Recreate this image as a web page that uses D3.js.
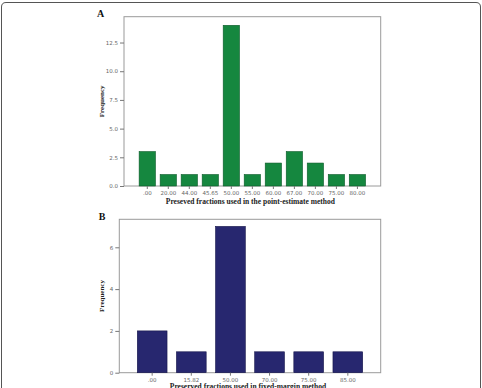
<!DOCTYPE html>
<html>
<head>
<meta charset="utf-8">
<script src="https://cdn.jsdelivr.net/npm/d3@7"></script>
<style>
  body { margin: 0; background: #fff; }
  svg { display: block; }
</style>
</head>
<body>
<div id="chart"></div>
<script>
(function(){

    //Data
    var catsA = [".00", "20.00", "44.00", "45.65", "50.00", "55.00", "60.00", "67.00", "70.00", "75.00", "80.00"];
    var freqA = [3, 1, 1, 1, 14, 1, 2, 3, 2, 1, 1];
    var ticksA = [0, 2.5, 5, 7.5, 10, 12.5];

    var catsB = [".00", "15.82", "50.00", "70.00", "75.00", "85.00"];
    var freqB = [2, 1, 7, 1, 1, 1];
    var ticksB = [0, 2, 4, 6];

    var width = 482, height = 388;
    var svg = d3.select("#chart").append("svg")
        .attr("width", width)
        .attr("height", height);

    //Outer rounded border
    svg.append("path")
        .attr("d", "M1.5," + (height + 5) + " L1.5,7 Q1.5,2.5 6,2.5 L476,2.5 Q480.5,2.5 480.5,7 L480.5," + (height + 5))
        .style("fill", "none")
        .style("stroke", "#555")
        .style("stroke-width", 1);

    function panel(opt){
        var g = svg.append("g");

        var x = d3.scaleBand()
            .domain(opt.cats)
            .range([opt.left, opt.right])
            .paddingInner(opt.pin)
            .paddingOuter(opt.pout);

        var y = d3.scaleLinear()
            .domain([0, opt.ymax])
            .range([opt.bottom, opt.top]);

        //frame
        g.append("rect")
            .attr("x", opt.left)
            .attr("y", opt.top)
            .attr("width", opt.right - opt.left)
            .attr("height", opt.bottom - opt.top)
            .style("fill", "none")
            .style("stroke", "#9a9a9a")
            .style("stroke-width", 1);

        //bars
        g.append("g")
            .selectAll("rect")
            .data(opt.vals)
            .enter().append("rect")
            .attr("x", function(d, i){ return x(opt.cats[i]); })
            .attr("y", function(d){ return y(d); })
            .attr("width", x.bandwidth())
            .attr("height", function(d){ return opt.bottom - y(d); })
            .style("fill", opt.fill)
            .style("stroke", opt.stroke)
            .style("stroke-width", 0.6);

        //y axis
        var yAxis = d3.axisLeft(y)
            .tickValues(opt.yticks)
            .tickSize(4)
            .tickPadding(2)
            .tickFormat(opt.yfmt);
        var ya = g.append("g")
            .attr("transform", "translate(" + opt.left + ",0)")
            .call(yAxis);
        ya.select(".domain").remove();

        //x axis
        var xAxis = d3.axisBottom(x)
            .tickSize(3)
            .tickPadding(2);
        var xa = g.append("g")
            .attr("transform", "translate(0," + opt.bottom + ")")
            .call(xAxis);
        xa.select(".domain").remove();

        g.selectAll(".tick line").style("stroke", "#777");
        g.selectAll(".tick text")
            .attr("font-family", "DejaVu Sans, sans-serif")
            .attr("font-size", "5.5px")
            .attr("fill", "#666");

        //titles
        g.append("text")
            .attr("x", (opt.left + opt.right) / 2 - 2)
            .attr("y", opt.xtitleY)
            .attr("text-anchor", "middle")
            .attr("font-family", "Liberation Serif, serif")
            .attr("font-weight", "bold")
            .attr("font-size", "7.5px")
            .attr("fill", "#222")
            .text(opt.xtitle);

        g.append("text")
            .attr("transform", "translate(" + 104 + "," + ((opt.top + opt.bottom) / 2) + ") rotate(-90)")
            .attr("text-anchor", "middle")
            .attr("font-family", "Liberation Serif, serif")
            .attr("font-weight", "bold")
            .attr("font-size", "7px")
            .attr("fill", "#222")
            .text("Frequency");

        g.append("text")
            .attr("x", opt.labelX)
            .attr("y", opt.labelY)
            .attr("text-anchor", "middle")
            .attr("font-family", "Liberation Serif, serif")
            .attr("font-weight", "bold")
            .attr("font-size", "10px")
            .attr("fill", "#111")
            .text(opt.label);
    }

    panel({
        cats: catsA, vals: freqA, yticks: ticksA, ymax: 14.75,
        yfmt: d3.format(".1f"),
        left: 124, right: 380.7, top: 16.7, bottom: 186,
        pin: 0.224, pout: 0.72,
        fill: "#15873f", stroke: "#0d5a2a",
        xtitle: "Preseved fractions used in the point-estimate method",
        xtitleY: 204,
        label: "A", labelX: 100.5, labelY: 17
    });

    panel({
        cats: catsB, vals: freqB, yticks: ticksB, ymax: 7.34,
        yfmt: d3.format("d"),
        left: 119.3, right: 380.7, top: 219.3, bottom: 372.7,
        pin: 0.24, pout: 0.46,
        fill: "#27276f", stroke: "#15154a",
        xtitle: "Preserved fractions used in fixed-margin method",
        xtitleY: 389,
        label: "B", labelX: 102, labelY: 219.5
    });

})();
</script>
</body>
</html>
